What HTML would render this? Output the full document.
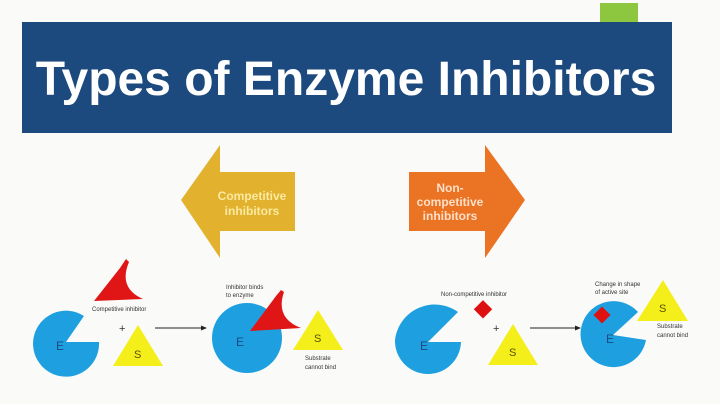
<!DOCTYPE html>
<html><head><meta charset="utf-8"><style>
html,body{margin:0;padding:0;background:#fafaf8;}
svg{display:block}
</style></head><body>
<svg width="720" height="404" viewBox="0 0 720 404" xmlns="http://www.w3.org/2000/svg" font-family="Liberation Sans, sans-serif">
<rect width="720" height="404" fill="#fafaf8"/>
<rect x="600" y="3" width="38" height="20" fill="#8dc63f"/>
<rect x="22" y="22" width="650" height="111" fill="#1c4a7e"/>
<text x="346" y="95" text-anchor="middle" font-size="48" font-weight="bold" fill="#fff">Types of Enzyme Inhibitors</text>
<polygon points="181,200 220,145 220,172 295,172 295,231 220,231 220,258" fill="#e2b12e"/>
<text x="252" y="200" text-anchor="middle" font-size="12" font-weight="bold" fill="#fbeaa0">Competitive</text>
<text x="252" y="215" text-anchor="middle" font-size="12" font-weight="bold" fill="#fbeaa0">inhibitors</text>
<polygon points="525,200 485,145 485,172 409,172 409,231 485,231 485,258" fill="#ea7324"/>
<text x="450" y="192" text-anchor="middle" font-size="12" font-weight="bold" fill="#fde0c8">Non-</text>
<text x="450" y="206" text-anchor="middle" font-size="12" font-weight="bold" fill="#fde0c8">competitive</text>
<text x="450" y="220" text-anchor="middle" font-size="12" font-weight="bold" fill="#fde0c8">inhibitors</text>
<!-- left group -->
<path d="M66,342 L84,316 A33,33 0 1 0 99,342 Z" fill="#1ea0e0"/>
<text x="56" y="350" font-size="12" fill="#1a4a80">E</text>
<path d="M94,301 L120,268 L126,259 L129,262 Q118,288 143,299 Z" fill="#e01515"/>
<text x="92" y="311" font-size="6" fill="#333">Competitive inhibitor</text>
<text x="119" y="332" font-size="11" fill="#333">+</text>
<polygon points="138,325 163,366 113,366" fill="#f4ef1a"/>
<text x="134" y="358" font-size="11" fill="#5a5000">S</text>
<line x1="155" y1="328" x2="203" y2="328" stroke="#222" stroke-width="1"/>
<polygon points="207,328 201,325.5 201,330.5" fill="#222"/>
<circle cx="247" cy="338" r="35" fill="#1ea0e0"/>
<text x="236" y="346" font-size="12" fill="#1a4a80">E</text>
<path d="M250,331 L276,296 L281,290 L284,292 Q275,318 301,328 Z" fill="#e01515"/>
<text x="226" y="289" font-size="6" fill="#333">Inhibitor binds</text>
<text x="226" y="297" font-size="6" fill="#333">to enzyme</text>
<polygon points="318,310 343,350 293,350" fill="#f4ef1a"/>
<text x="314" y="342" font-size="11" fill="#5a5000">S</text>
<text x="305" y="360" font-size="6" fill="#333">Substrate</text>
<text x="305" y="369" font-size="6" fill="#333">cannot bind</text>
<!-- right group -->
<path d="M428,342 L458,312 A40,40 0 0 0 395,340 A33,33 0 1 0 461,342 Z" fill="#1ea0e0"/>
<text x="420" y="350" font-size="12" fill="#1a4a80">E</text>
<rect x="476" y="303" width="13" height="13" fill="#d11" transform="rotate(45 483 310)"/>
<text x="441" y="296" font-size="6" fill="#333">Non-competitive inhibitor</text>
<text x="493" y="332" font-size="11" fill="#333">+</text>
<polygon points="513,324 538,365 488,365" fill="#f4ef1a"/>
<text x="509" y="356" font-size="11" fill="#5a5000">S</text>
<line x1="530" y1="328" x2="577" y2="328" stroke="#222" stroke-width="1"/>
<polygon points="581,328 575,325.5 575,330.5" fill="#222"/>
<path d="M613,335 L638,312 A33,33 0 1 0 646,340 Z" fill="#1ea0e0"/>
<text x="606" y="343" font-size="12" fill="#1a4a80">E</text>
<rect x="596" y="309" width="12" height="12" fill="#d11" transform="rotate(45 602 315)"/>
<text x="595" y="286" font-size="6" fill="#333">Change in shape</text>
<text x="595" y="294" font-size="6" fill="#333">of active site</text>
<polygon points="663,280 688,321 637,321" fill="#f4ef1a"/>
<text x="659" y="312" font-size="11" fill="#5a5000">S</text>
<text x="657" y="328" font-size="6" fill="#333">Substrate</text>
<text x="657" y="337" font-size="6" fill="#333">cannot bind</text>
</svg>
</body></html>
